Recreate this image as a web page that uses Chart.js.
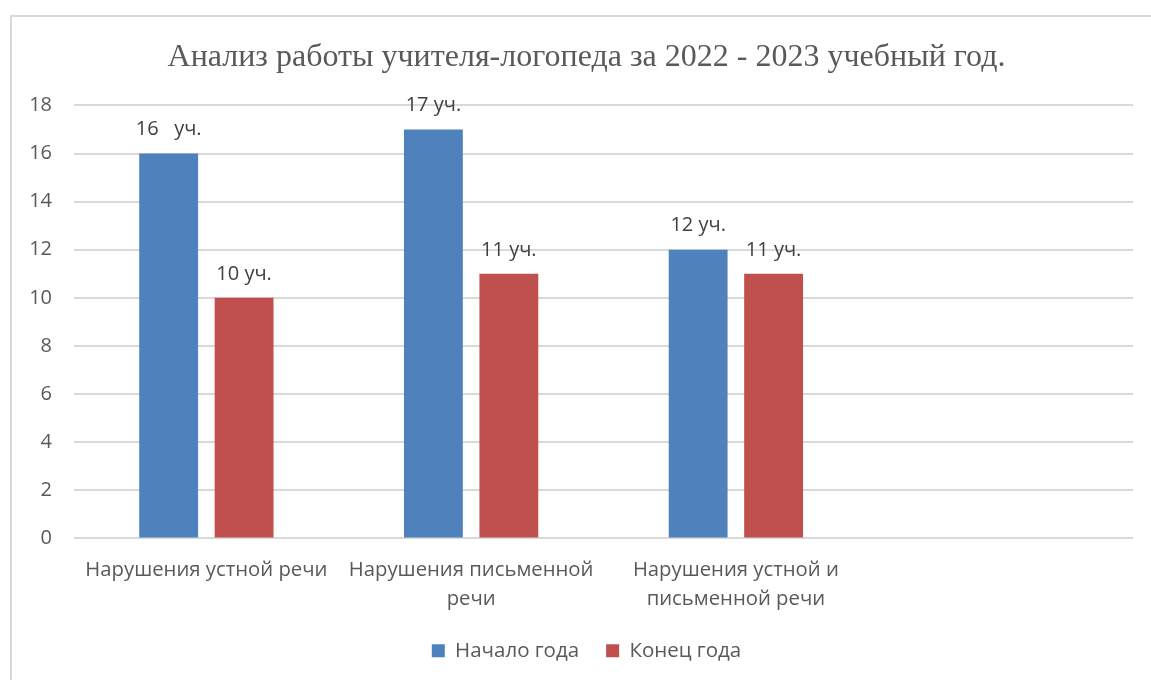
<!DOCTYPE html>
<html>
<head>
<meta charset="utf-8">
<script src="https://cdn.jsdelivr.net/npm/chart.js@4"></script>
<style>
html,body{margin:0;padding:0;background:#fff;overflow:hidden;}
#wrap{position:relative;width:1151px;height:680px;}
#frame{position:absolute;left:10px;top:15px;width:1200px;height:700px;border:2px solid #d9d9d9;box-sizing:border-box;}
canvas{position:absolute;left:0;top:0;}
</style>
</head>
<body>
<div id="wrap"><div id="frame"></div><canvas id="c" width="1151" height="680"></canvas></div>
<script>
const categories = [
  'Нарушения устной речи',
  ['Нарушения письменной', 'речи'],
  ['Нарушения устной и', 'письменной речи'],
  ''
];
const seriesNames = ['Начало года', 'Конец года'];
const startValues = [16, 17, 12, null];
const endValues = [10, 11, 11, null];
const startLabels = ['16   уч.', '17 уч.', '12 уч.', ''];
const endLabels = ['10 уч.', '11 уч.', '11 уч.', ''];
const yTicks = [0, 2, 4, 6, 8, 10, 12, 14, 16, 18];
const titleText = 'Анализ работы учителя-логопеда за 2022 - 2023 учебный год.';

const FONT = "'Open Sans', 'Liberation Sans', sans-serif";
const TITLE_FONT = "'Liberation Serif', serif";
const TXT = '#595959';

const dataLabelPlugin = {
  id: 'dataLabels',
  afterDatasetsDraw(chart) {
    const ctx = chart.ctx;
    const labelSets = [startLabels, endLabels];
    ctx.save();
    ctx.font = "20px " + FONT;
    ctx.fillStyle = '#404040';
    ctx.textAlign = 'center';
    ctx.textBaseline = 'middle';
    chart.data.datasets.forEach((ds, di) => {
      const meta = chart.getDatasetMeta(di);
      meta.data.forEach((bar, i) => {
        if (ds.data[i] == null) return;
        ctx.fillText(labelSets[di][i], bar.x, bar.y - 24);
      });
    });
    ctx.restore();
  }
};

// Y tick labels drawn from the y scale (unclipped, so they may extend left of the axis box)
const yLabelsPlugin = {
  id: 'yLabels',
  afterDraw(chart) {
    const y = chart.scales.y;
    const ctx = chart.ctx;
    ctx.save();
    ctx.font = "20px " + FONT;
    ctx.fillStyle = TXT;
    ctx.textAlign = 'right';
    ctx.textBaseline = 'middle';
    yTicks.forEach(v => ctx.fillText(String(v), y.right - 22, y.getPixelForValue(v)));
    ctx.restore();
  }
};

new Chart(document.getElementById('c'), {
  type: 'bar',
  data: {
    labels: categories,
    datasets: [
      { label: seriesNames[0], data: startValues, backgroundColor: '#4f81bd', categoryPercentage: 0.57, barPercentage: 0.78 },
      { label: seriesNames[1], data: endValues, backgroundColor: '#c0504d', categoryPercentage: 0.57, barPercentage: 0.78 }
    ]
  },
  options: {
    responsive: false,
    animation: false,
    layout: { padding: { left: 40, right: 18, top: 20, bottom: 9 } },
    plugins: {
      title: {
        display: true,
        text: titleText,
        color: TXT,
        font: { family: TITLE_FONT, size: 32, weight: 'normal' },
        padding: { top: 18, bottom: 29 }
      },
      legend: {
        position: 'bottom',
        labels: {
          color: TXT,
          font: { family: FONT, size: 20.5 },
          boxWidth: 13,
          boxHeight: 13,
          padding: 27
        }
      },
      tooltip: { enabled: false }
    },
    scales: {
      x: {
        afterFit(axis) { axis.height = axis.height - 9; },
        grid: { display: false },
        border: { display: false },
        ticks: { color: TXT, font: { family: FONT, size: 20.3, lineHeight: 1.43 }, maxRotation: 0, autoSkip: false, padding: 9 }
      },
      y: {
        min: 0, max: 18,
        afterBuildTicks(axis) { axis.ticks = yTicks.map(v => ({ value: v })); },
        afterFit(axis) { axis.width = 34; },
        grid: { color: '#d9d9d9', lineWidth: 2, drawTicks: false },
        border: { display: false },
        ticks: { display: false }
      }
    }
  },
  plugins: [dataLabelPlugin, yLabelsPlugin]
});
</script>
</body>
</html>
